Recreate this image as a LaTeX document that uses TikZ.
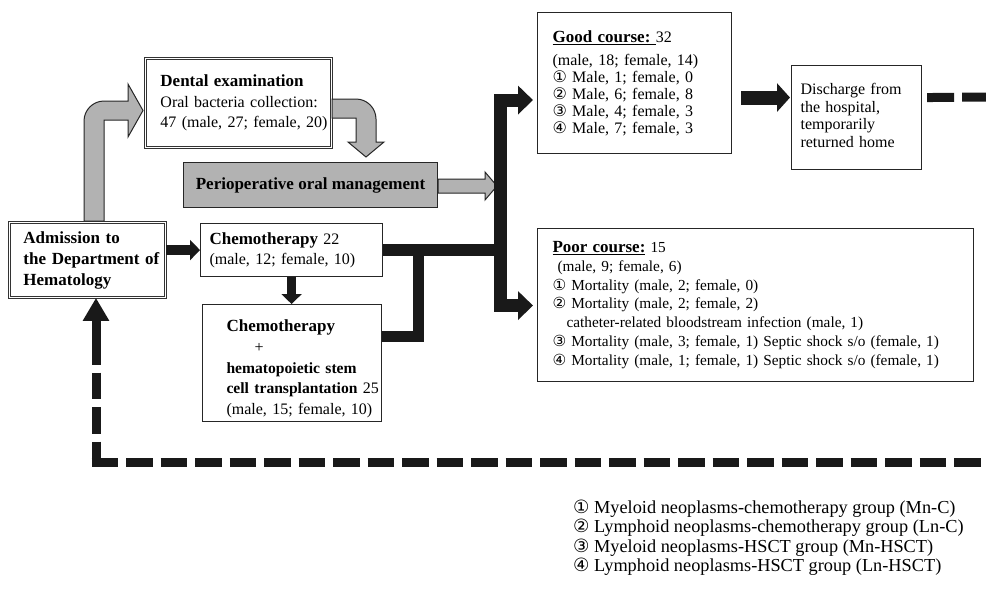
\documentclass[tikz,border=0pt]{standalone}
\usepackage{fontspec}
\setmainfont{Liberation Serif}
\newfontfamily\cfont[Scale=1.0]{DejaVu Sans}
\usetikzlibrary{arrows.meta,calc}
\newcommand{\cn}[1]{{\cfont #1}}
\newcommand{\B}[1]{{\fontsize{17}{20}\selectfont\bfseries #1}}
\newcommand{\Bs}[1]{{\fontsize{15.6}{20}\selectfont\bfseries #1}}
\newcommand{\tl}[1]{\noindent\begin{tabular}{@{}l@{}}#1\end{tabular}}
\begin{document}
\begin{tikzpicture}[x=1pt,y=-1pt,
  box/.style={draw=black!85, line width=1.1pt, fill=white, inner ysep=0pt, align=left,
    anchor=north west, font=\fontsize{16}{20}\selectfont},
  dbox/.style={box, draw=black!80, double=white, double distance=1.6pt, line width=0.9pt},
  grayarrow/.style={fill=black!30, draw=black!85, line width=1pt, line join=miter},
  blk/.style={draw=black!90, line join=miter},
]
\useasboundingbox (0,0) rectangle (986,592);

% ---------- nodes ----------
\node[dbox, minimum width=156pt, text width=128pt, inner xsep=14pt, minimum height=75pt,
  font=\fontsize{17}{21}\selectfont\bfseries] (adm) at (9,222)
  {\tl{Admission to\\the Department of\\Hematology}};

\node[dbox, minimum width=186pt, text width=156pt, inner xsep=15pt, minimum height=89pt,
  font=\fontsize{16}{20.5}\selectfont] (dent) at (145,58)
  {\tl{\B{Dental examination}\\Oral bacteria collection:\\47 (male, 27; female, 20)}};

\node[box, fill=black!30, minimum width=254pt, minimum height=45pt, align=center,
  font=\fontsize{17}{20}\selectfont\bfseries] (peri) at (183,162)
  {Perioperative oral management};

\node[box, minimum width=182pt, text width=164pt, inner xsep=9pt, minimum height=53pt] (chemo) at (200,223)
  {\tl{\B{Chemotherapy} 22\\(male, 12; female, 10)}};

\node[box, minimum width=179pt, text width=131pt, inner xsep=24pt, minimum height=117pt,
  font=\fontsize{16}{20.7}\selectfont] (hsct) at (202,304)
  {\raisebox{-6pt}[\height][\depth]{\tl{\B{Chemotherapy}\\\hspace*{28pt}+\\\Bs{hematopoietic stem}\\\Bs{cell transplantation} 25\\(male, 15; female, 10)}}};

\node[box, minimum width=194pt, text width=164pt, inner xsep=15pt, minimum height=141pt,
  font=\fontsize{16}{16.8}\selectfont] (good) at (537,12)
  {\raisebox{-1.5pt}[\height][\depth]{\tl{\underline{\B{Good course:}\ }32\\[6pt](male, 18; female, 14)\\\cn{①} Male, 1; female, 0\\\cn{②} Male, 6; female, 8\\\cn{③} Male, 4; female, 3\\\cn{④} Male, 7; female, 3}}};

\node[box, minimum width=130pt, text width=112pt, inner xsep=9pt, minimum height=104pt,
  font=\fontsize{16}{17.4}\selectfont] (disch) at (791,65)
  {\tl{Discharge from\\the hospital,\\temporarily\\returned home}};

\node[box, minimum width=436pt, text width=406pt, inner xsep=15pt, minimum height=153pt,
  font=\fontsize{15.3}{18.8}\selectfont] (poor) at (537,228)
  {\tl{\underline{\B{Poor course:}} 15\\\ (male, 9; female, 6)\\\cn{①} Mortality (male, 2; female, 0)\\\cn{②} Mortality (male, 2; female, 2)\\\hspace*{14pt}catheter-related bloodstream infection (male, 1)\\\cn{③} Mortality (male, 3; female, 1) Septic shock s/o (female, 1)\\\cn{④} Mortality (male, 1; female, 1) Septic shock s/o (female, 1)}};

\node[anchor=north west, inner sep=0pt, align=left, font=\fontsize{18.3}{19.4}\selectfont] (legend) at (573,499.5)
  {\tl{\cn{①} Myeloid neoplasms-chemotherapy group (Mn-C)\\\cn{②} Lymphoid neoplasms-chemotherapy group (Ln-C)\\\cn{③} Myeloid neoplasms-HSCT group (Mn-HSCT)\\\cn{④} Lymphoid neoplasms-HSCT group (Ln-HSCT)}};

% ---------- gray block arrows ----------
\draw[grayarrow] (84,221) -- (84,121) .. controls (84,110) and (93,101) .. (104,101)
  -- (128,101) -- (128,84) -- (143,110.5) -- (128,137) -- (128,120) -- (104,120) -- (104,221) -- cycle;
\draw[grayarrow] (332,99) -- (356,99) .. controls (367,99) and (376,108) .. (376,119)
  -- (376,142) -- (384,142) -- (366,157) -- (348,142) -- (356,142) -- (356,118) -- (332,118) -- cycle;
\draw[grayarrow] (438,179) -- (485,179) -- (485,172) -- (497,186) -- (485,200) -- (485,193) -- (438,193) -- cycle;

% ---------- black connectors ----------
\coordinate (sp) at (500,0);
\coordinate (gt) at ($(good.west)+(-4,17)$);
\coordinate (pt) at ($(poor.west)+(-4,0.5)$);
\draw[blk, line width=10pt, -{Triangle[length=10pt,width=20pt]}] (adm.east |- chemo.west) -- (chemo.west);
\draw[blk, line width=9pt, -{Triangle[length=10pt,width=20pt]}] (chemo.south) -- (chemo.south |- hsct.north);
\draw[blk, line width=12pt] (chemo.east) -- (chemo.east -| sp);
\draw[blk, line width=11pt] ($(hsct.east)+(0,-27)$) -| ($(chemo.east)+(35,0)$);
\draw[blk, line width=13pt, -{Triangle[length=15pt,width=28pt]}] (chemo.east -| sp) |- (gt);
\draw[blk, line width=13pt, -{Triangle[length=15pt,width=28pt]}] (chemo.east -| sp) |- (pt);
\draw[blk, line width=14pt, -{Triangle[length=13pt,width=28pt]}] ($(good.east)+(9,14.5)$) -- ($(disch.west)+(-1,-20)$);

% ---------- dashed feedback ----------
\coordinate (dR) at (986,97);
\coordinate (fbT) at (96,338);
\coordinate (fbC) at (96,466.5);
\coordinate (fbL) at (91.5,462);
\coordinate (fbR) at (986,462);
\draw[blk, line width=9pt, dash pattern=on 27pt off 8pt] ($(disch.east)+(5,-20)$) -- (dR);
\draw[blk, line width=9pt, dash pattern=on 26.5pt off 8pt] (fbT) -- (fbC);
\draw[blk, line width=9pt, dash pattern=on 26.5pt off 8pt] (fbL) -- (fbR);
\draw[blk, line width=9pt, -{Triangle[length=23pt,width=25pt]}] (fbT) -- (adm.south -| fbT);
\end{tikzpicture}
\end{document}
